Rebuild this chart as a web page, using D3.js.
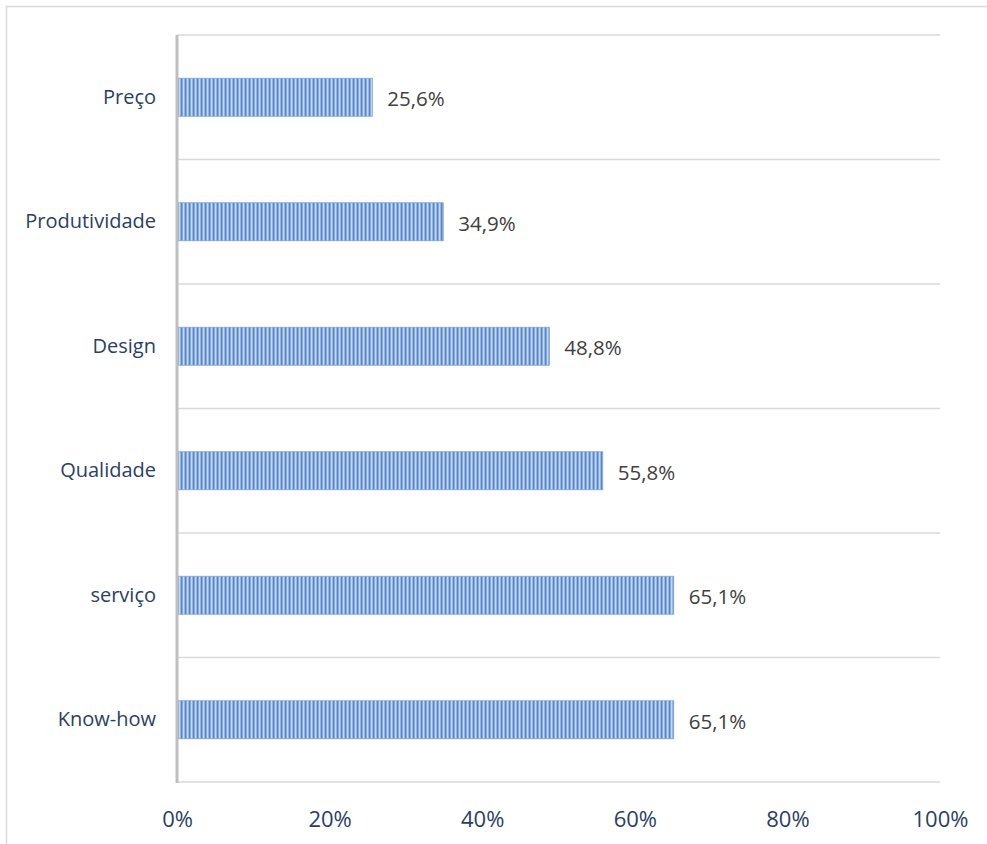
<!DOCTYPE html>
<html>
<head>
<meta charset="utf-8">
<script src="https://cdn.jsdelivr.net/npm/d3@7"></script>
<style>
  html, body { margin: 0; padding: 0; background: #fff; }
  svg { display: block; }
</style>
</head>
<body>
<svg id="chart" width="987" height="844"></svg>
<script>
// Survey results: share of respondents citing each factor
const categories = ["Preço", "Produtividade", "Design", "Qualidade", "serviço", "Know-how"];
const values = [25.6, 34.9, 48.8, 55.8, 65.1, 65.1];
const valueLabels = ["25,6%", "34,9%", "48,8%", "55,8%", "65,1%", "65,1%"];
const tickValues = [0, 20, 40, 60, 80, 100];
const tickLabels = ["0%", "20%", "40%", "60%", "80%", "100%"];

const svg = d3.select("#chart");
const font = "'Open Sans', 'Noto Sans', sans-serif";

const plot = { left: 177, right: 940, top: 35, bottom: 782 };

// Outer frame
svg.append("rect")
  .attr("x", 6.5).attr("y", 6.5)
  .attr("width", 1000).attr("height", 1000)
  .attr("fill", "none")
  .attr("stroke", "#d9d9d9")
  .attr("stroke-width", 1.5);

// Vertical stripe fill for bars
const defs = svg.append("defs");
const pat = defs.append("pattern")
  .attr("id", "stripes")
  .attr("patternUnits", "userSpaceOnUse")
  .attr("width", 4).attr("height", 10)
  .attr("x", plot.left);
const stripeCols = ["#5587cb", "#86a9dc", "#c6d7f0", "#97b6e2"];
stripeCols.forEach((c, i) => {
  pat.append("rect").attr("x", i).attr("y", 0).attr("width", 1).attr("height", 10).attr("fill", c);
});

const x = d3.scaleLinear().domain([0, 100]).range([plot.left, plot.right]);
const y = d3.scaleBand().domain(categories).range([plot.top, plot.bottom]).paddingInner(0).paddingOuter(0);

// Horizontal gridlines at band boundaries
const bounds = categories.map(c => y(c)).concat([plot.bottom]);
svg.append("g").selectAll("line")
  .data(bounds)
  .join("line")
  .attr("x1", plot.left).attr("x2", plot.right)
  .attr("y1", d => d).attr("y2", d => d)
  .attr("stroke", "#d9d9d9")
  .attr("stroke-width", 1.5);

// Bars
const barH = 38;
svg.append("g").selectAll("rect")
  .data(categories)
  .join("rect")
  .attr("x", x(0))
  .attr("y", d => y(d) + y.bandwidth() / 2 - barH / 2)
  .attr("width", (d, i) => x(values[i]) - x(0))
  .attr("height", barH)
  .attr("fill", "url(#stripes)")
  .attr("stroke", "#7fa3d8")
  .attr("stroke-width", 0.8);

// Value labels
svg.append("g").selectAll("text")
  .data(categories)
  .join("text")
  .attr("x", (d, i) => x(values[i]) + 15)
  .attr("y", d => y(d) + y.bandwidth() / 2 + 2)
  .attr("dy", "0.35em")
  .attr("font-family", font)
  .attr("font-size", 20.5)
  .attr("fill", "#404040")
  .text((d, i) => valueLabels[i]);

// Category axis
const yAxis = svg.append("g")
  .attr("transform", `translate(${plot.left},0)`)
  .call(d3.axisLeft(y).tickSize(0).tickPadding(21));
yAxis.select(".domain").remove();
yAxis.selectAll("text")
  .attr("font-family", font)
  .attr("font-size", 20)
  .attr("fill", "#2b3f5f");

// Vertical axis line
svg.append("line")
  .attr("x1", plot.left).attr("x2", plot.left)
  .attr("y1", plot.top).attr("y2", plot.bottom + 1)
  .attr("stroke", "#bfbfbf")
  .attr("stroke-width", 3);

// Value axis
const xAxis = svg.append("g")
  .attr("transform", `translate(0,${plot.bottom})`)
  .call(d3.axisBottom(x).tickValues(tickValues).tickFormat((d, i) => tickLabels[i]).tickSize(0).tickPadding(29));
xAxis.select(".domain").remove();
xAxis.selectAll("text")
  .attr("font-family", font)
  .attr("font-size", 22)
  .attr("fill", "#2b3f5f");
</script>
</body>
</html>
